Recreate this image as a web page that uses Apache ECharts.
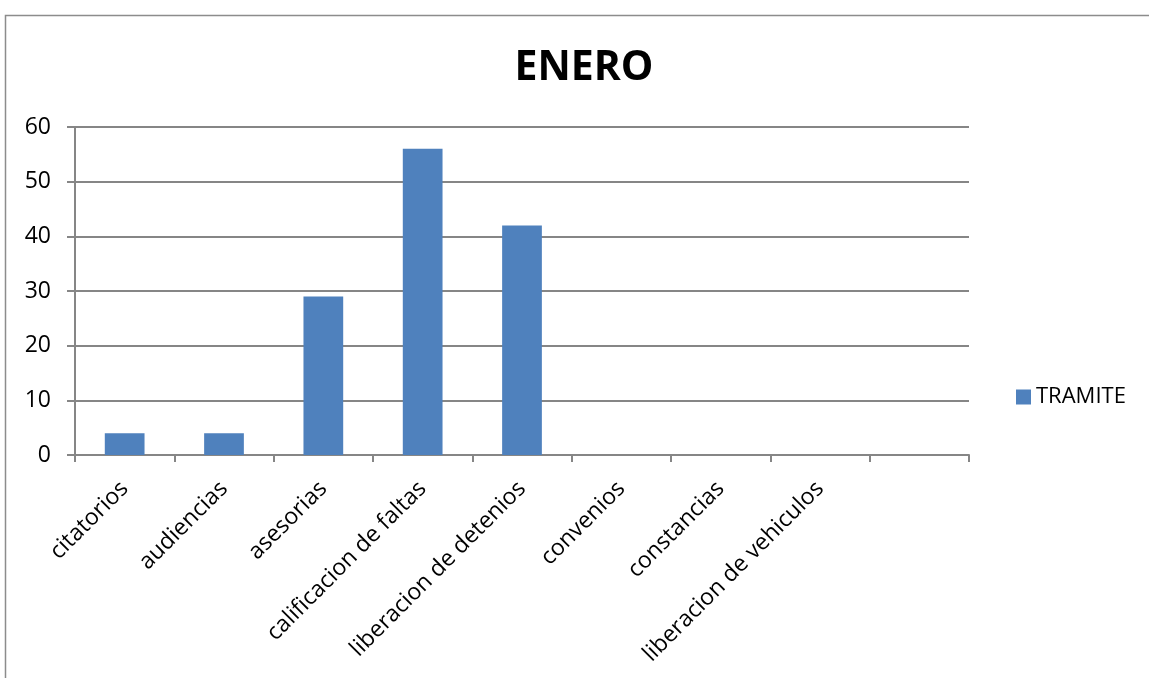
<!DOCTYPE html>
<html><head><meta charset="utf-8">
<script src="https://cdn.jsdelivr.net/npm/echarts@6/dist/echarts.min.js"></script>
<style>html,body{margin:0;padding:0;background:#fff}#c{width:1149px;height:678px}</style>
</head><body><div id="c"></div>
<script>
const categories = ['citatorios','audiencias','asesorias','calificacion de faltas','liberacion de detenios','convenios','constancias','liberacion de vehiculos',''];
const tramite = [4,4,29,56,42,0,0,0,0];
const yTicks = {min:0,max:60,interval:10};
const FONT = "'Open Sans', 'Noto Sans', sans-serif";
const chart = echarts.init(document.getElementById('c'), null, {renderer:'canvas'});
chart.setOption({
  animation:false,
  backgroundColor:'#fff',
  graphic:[{type:'rect',shape:{x:5.5,y:15.5,width:1200,height:700},style:{fill:'none',stroke:'#8c8c8c',lineWidth:1.5},silent:true,z:-1}],
  title:{text:'ENERO',left:579,top:43,textAlign:'center',textStyle:{fontFamily:FONT,fontWeight:'bold',fontSize:41,color:'#000'}},
  legend:{data:['TRAMITE'],left:1011,top:381,itemWidth:15,itemHeight:15,itemGap:9,icon:'rect',textStyle:{fontFamily:FONT,fontSize:22,color:'#000'}},
  grid:{left:75,right:180,top:127,bottom:223,containLabel:false},
  xAxis:{type:'category',data:categories,
    axisLine:{lineStyle:{color:'#868686',width:2}},
    axisTick:{show:true,length:7,lineStyle:{color:'#868686',width:2},alignWithLabel:false},
    axisLabel:{rotate:45,interval:0,margin:30,fontFamily:FONT,fontSize:23,color:'#000'}},
  yAxis:{type:'value',min:yTicks.min,max:yTicks.max,interval:yTicks.interval,
    axisLine:{show:true,lineStyle:{color:'#868686',width:2}},
    axisTick:{show:true,length:8,lineStyle:{color:'#868686',width:2}},
    splitLine:{lineStyle:{color:'#868686',width:2}},
    axisLabel:{margin:24,fontFamily:FONT,fontSize:23,color:'#000'}},
  series:[{name:'TRAMITE',type:'bar',data:tramite,barWidth:'40%',itemStyle:{color:'#4F81BD'}}]
});
</script></body></html>
